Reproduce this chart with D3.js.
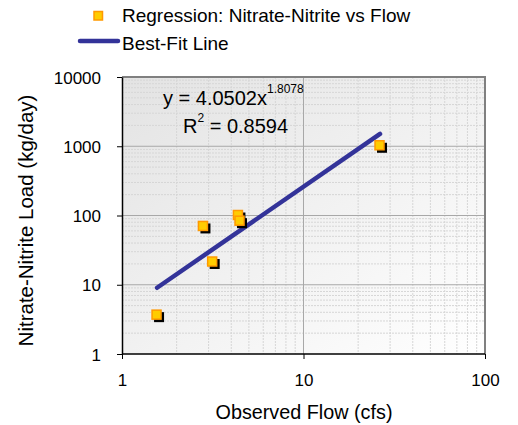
<!DOCTYPE html>
<html><head><meta charset="utf-8">
<script src="https://cdn.jsdelivr.net/npm/d3@7"></script>
<style>body{margin:0;background:#fff}svg{display:block;font-family:Arial,"Liberation Sans",sans-serif}</style>
</head><body><svg id="c" width="518" height="425"></svg>
<script>
const flow = [1.56, 2.81, 3.16, 4.38, 4.47, 26.4];
const load = [3.64, 69.5, 21.3, 100, 82.8, 1016];
const coefA = 4.0502, coefB = 1.8078;
const fitX = [1.56, 26.4];
const xTicks = [1, 10, 100];
const yTicks = [1, 10, 100, 1000, 10000];
const seriesNames = ["Regression: Nitrate-Nitrite vs Flow", "Best-Fit Line"];

const svg = d3.select("#c");
const L = 122, R = 485, T = 77, B = 354;
const x = d3.scaleLog().domain([1, 100]).range([L, R]);
const y = d3.scaleLog().domain([1, 10000]).range([B, T]);

const defs = svg.append("defs");
const g = defs.append("linearGradient").attr("id", "bg").attr("x1", "0").attr("y1", "0").attr("x2", "1").attr("y2", "1");
g.append("stop").attr("offset", "0").attr("stop-color", "#e3e3e3");
g.append("stop").attr("offset", "1").attr("stop-color", "#ffffff");
svg.append("rect").attr("x", L).attr("y", T).attr("width", R - L).attr("height", B - T).attr("fill", "url(#bg)");

// minor grid
const minorX = [], minorY = [];
for (let d = 1; d < 100; d *= 10) for (let k = 2; k <= 9; k++) minorX.push(d * k);
for (let d = 1; d < 10000; d *= 10) for (let k = 2; k <= 9; k++) minorY.push(d * k);
svg.append("g").selectAll("line").data(minorX).join("line")
  .attr("x1", d => x(d)).attr("x2", d => x(d)).attr("y1", T).attr("y2", B)
  .attr("stroke", "#d6d6d6").attr("stroke-width", 1).attr("stroke-dasharray", "2,1");
svg.append("g").selectAll("line").data(minorY).join("line")
  .attr("y1", d => y(d)).attr("y2", d => y(d)).attr("x1", L).attr("x2", R)
  .attr("stroke", "#d6d6d6").attr("stroke-width", 1).attr("stroke-dasharray", "2,1");
// major grid
svg.append("g").selectAll("line").data(xTicks.slice(1, -1)).join("line")
  .attr("x1", d => x(d)).attr("x2", d => x(d)).attr("y1", T).attr("y2", B)
  .attr("stroke", "#a8a8a8").attr("stroke-width", 1);
svg.append("g").selectAll("line").data(yTicks.slice(1, -1)).join("line")
  .attr("y1", d => y(d)).attr("y2", d => y(d)).attr("x1", L).attr("x2", R)
  .attr("stroke", "#a8a8a8").attr("stroke-width", 1);
// top/right border
svg.append("line").attr("x1", L).attr("x2", R + 1).attr("y1", T).attr("y2", T).attr("stroke", "#808080").attr("stroke-width", 2);
svg.append("line").attr("x1", R).attr("x2", R).attr("y1", T).attr("y2", B).attr("stroke", "#808080").attr("stroke-width", 2);

// axes
const fmt = d => String(d);
const xa = svg.append("g").attr("transform", `translate(0,${B})`)
  .call(d3.axisBottom(x).tickValues(xTicks).tickFormat(fmt).tickSize(5).tickSizeOuter(0));
const ya = svg.append("g").attr("transform", `translate(${L},0)`)
  .call(d3.axisLeft(y).tickValues(yTicks).tickFormat(fmt).tickSize(5).tickSizeOuter(0));
[xa, ya].forEach(a => {
  a.select(".domain").attr("stroke", "#000").attr("stroke-width", 1.5);
  a.selectAll(".tick line").attr("stroke", "#000");
  a.selectAll("text").attr("font-size", 17).attr("fill", "#000").attr("font-family", "Arial, 'Liberation Sans', sans-serif");
});
xa.selectAll("text").attr("y", 32).attr("dy", null);
ya.selectAll("text").attr("x", -21).attr("dy", "0.36em");
xa.select(".domain").attr("d", `M${L},0H${R}`);

// axis titles
svg.append("text").attr("x", (L + R) / 2 + 0.5).attr("y", 419).attr("text-anchor", "middle").attr("font-size", 19.8).text("Observed Flow (cfs)");
svg.append("text").attr("transform", `translate(33,${(T + B) / 2 + 5}) rotate(-90)`).attr("text-anchor", "middle").attr("font-size", 20.5).text("Nitrate-Nitrite Load (kg/day)");

// fit line
const fit = fitX.map(v => [v, coefA * Math.pow(v, coefB)]);
svg.append("path").attr("d", d3.line().x(d => x(d[0])).y(d => y(d[1]))(fit))
  .attr("stroke", "#333399").attr("stroke-width", 4.5).attr("fill", "none").attr("stroke-linecap", "round");

// points
const pts = flow.map((f, i) => [f, load[i]]);
svg.append("g").selectAll("rect").data(pts).join("rect")
  .attr("x", d => x(d[0]) - 3).attr("y", d => y(d[1]) - 3).attr("width", 10).attr("height", 10).attr("fill", "#000");
svg.append("g").selectAll("rect").data(pts).join("rect")
  .attr("x", d => x(d[0]) - 5).attr("y", d => y(d[1]) - 5).attr("width", 9).attr("height", 9)
  .attr("fill", "#ffcc00").attr("stroke", "#ff9900").attr("stroke-width", 1.5);

// equation
const eq = svg.append("text").attr("x", 163).attr("y", 105).attr("font-size", 20);
eq.append("tspan").text("y = 4.0502x");
eq.append("tspan").attr("font-size", 12).attr("dy", -12).text("1.8078");
const r2 = svg.append("text").attr("x", 183).attr("y", 133).attr("font-size", 20);
r2.append("tspan").text("R");
r2.append("tspan").attr("font-size", 12).attr("dy", -11).text("2");
r2.append("tspan").attr("dy", 11).text(" = 0.8594");

// legend
svg.append("rect").attr("x", 94).attr("y", 11.5).attr("width", 8.5).attr("height", 8.5)
  .attr("fill", "#ffcc00").attr("stroke", "#ff9900").attr("stroke-width", 1.5);
svg.append("text").attr("x", 122).attr("y", 22).attr("font-size", 19).text(seriesNames[0]);
svg.append("line").attr("x1", 80).attr("x2", 118).attr("y1", 41).attr("y2", 41)
  .attr("stroke", "#333399").attr("stroke-width", 4.5).attr("stroke-linecap", "round");
svg.append("text").attr("x", 122).attr("y", 50).attr("font-size", 19).text(seriesNames[1]);
</script></body></html>
